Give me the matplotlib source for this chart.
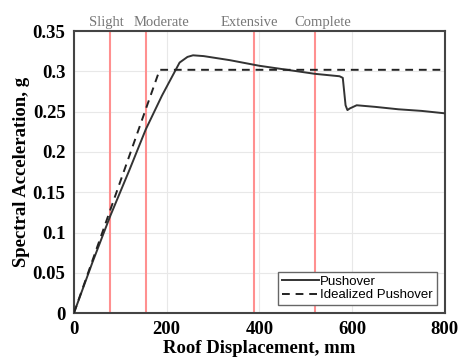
import numpy as np
import matplotlib
matplotlib.use("Agg")
from matplotlib import pyplot as plt

# Pushover curve
push_x = [0, 40, 78, 120, 155, 190, 228, 245, 257, 280, 336, 400, 460, 520, 573, 580, 583, 586, 590, 595, 610, 650, 700, 750, 800]
push_y = [0, 0.063, 0.120, 0.178, 0.228, 0.270, 0.311, 0.318, 0.320, 0.319, 0.314, 0.307, 0.302, 0.297, 0.294, 0.292, 0.275, 0.258, 0.252, 0.254, 0.258, 0.256, 0.253, 0.251, 0.248]

# Idealized bilinear curve
ideal_x = [0, 185, 800]
ideal_y = [0, 0.302, 0.302]

# Damage state thresholds (mm) and where their labels sit
ds_names = ['Slight', 'Moderate', 'Extensive', 'Complete']
ds_x = [78, 155, 388, 519]
ds_label_x = [71, 190, 379, 537]

x_ticks = [0, 200, 400, 600, 800]
y_ticks = [0, 0.05, 0.1, 0.15, 0.2, 0.25, 0.3, 0.35]
y_labels = ['0', '0.05', '0.1', '0.15', '0.2', '0.25', '0.3', '0.35']

fig = plt.figure(figsize=(4.59, 3.62), dpi=100)
ax = fig.add_axes([0.161, 0.135, 0.808, 0.779])

ax.grid(True, color='#e8e8e8', linewidth=0.8)
ax.set_axisbelow(True)

for x in ds_x:
    ax.axvline(x, color='#ff9090', linewidth=1.5, zorder=2)

ax.plot(push_x, push_y, color='#333333', linewidth=1.4, label='Pushover', zorder=3)
ax.plot(ideal_x, ideal_y, color='#222222', linewidth=1.4, linestyle=(0, (4, 3)),
        label='Idealized Pushover', zorder=3)

ax.set_xlim(0, 800)
ax.set_ylim(0, 0.35)
ax.set_xticks(x_ticks)
ax.set_yticks(y_ticks)
ax.set_yticklabels(y_labels)
ax.tick_params(length=0, pad=6)
for lab in ax.get_xticklabels() + ax.get_yticklabels():
    lab.set_fontfamily('Liberation Serif')
    lab.set_fontweight('bold')
    lab.set_fontsize(13.5)

for sp in ax.spines.values():
    sp.set_linewidth(1.5)
    sp.set_color('#444444')

ax.set_xlabel('Roof Displacement, mm', fontfamily='Liberation Serif',
              fontweight='bold', fontsize=13.5, labelpad=1)
ax.set_ylabel('Spectral Acceleration, g', fontfamily='Liberation Serif',
              fontweight='bold', fontsize=13.5, labelpad=2)

for name, x in zip(ds_names, ds_label_x):
    ax.text(x, 0.353, name, ha='center', va='bottom', fontsize=10.5,
            fontfamily='Liberation Serif', color='#777777')

leg = ax.legend(loc='lower right', fancybox=False, framealpha=1,
                edgecolor='#666666', handlelength=2.8, handletextpad=0.1,
                borderpad=0.3, labelspacing=0.1, borderaxespad=0.6,
                prop={'family': 'Liberation Sans', 'size': 9.5})

plt.savefig('out.png', dpi=100)
